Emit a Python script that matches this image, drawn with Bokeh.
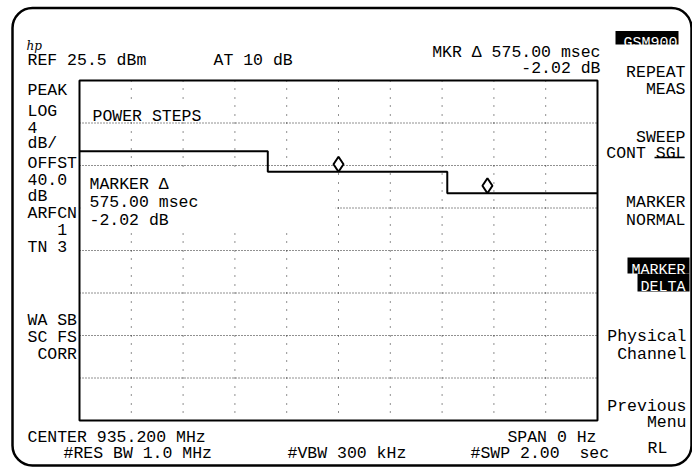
from bokeh.plotting import figure
from bokeh.models import Range1d, BoxAnnotation
from bokeh.core.properties import value
from bokeh.embed import file_html
from bokeh.resources import INLINE

REF_LEVEL_DBM = 25.5          # REF 25.5 dBm
DB_PER_DIV = 4.0              # LOG 4 dB/
N_YDIV = 8
SWEEP_S = 2.00                # #SWP 2.00 sec, SPAN 0 Hz (time domain)
STEP_T = [0.0, 0.727, 1.420, 2.000]          # s, start of each power step
STEP_DBM = [18.85, 16.91, 14.89, 14.89]      # dBm, level of each step
MARKER_T = [1.000, 1.575]                    # reference marker, delta marker (575 ms)
MARKER_DBM = [16.91, 14.89]                  # delta = -2.02 dB
GRID_T = [0.2, 0.4, 0.6, 0.8, 1.0, 1.2, 1.4, 1.6, 1.8]
GRID_DBM = [21.5, 17.5, 13.5, 9.5, 5.5, 1.5, -2.5]

# ---------------- layout (page pixels) ----------------
W, H = 692, 467
OX, OY = 0, 0
FX0, FX1, FY0, FY1 = 79, 597, 80, 420
FONT = "Liberation Mono"
FS = "16.5px"
NB = "\u00a0"

bottom_dbm = REF_LEVEL_DBM - N_YDIV * DB_PER_DIV
px_per_s = (FX1 - FX0) / SWEEP_S
px_per_db = (FY1 - FY0) / (REF_LEVEL_DBM - bottom_dbm)

p = figure(width=W, height=H, x_range=Range1d(OX, OX + W), y_range=Range1d(OY + H, OY),
           output_backend="svg", toolbar_location=None, min_border=0,
           x_axis_location=None, y_axis_location=None)
p.grid.visible = False
p.outline_line_color = None
p.background_fill_color = "white"
p.border_fill_color = "white"
p.extra_x_ranges = {"t": Range1d(-(FX0 - OX) / px_per_s, SWEEP_S + (OX + W - FX1) / px_per_s)}
p.extra_y_ranges = {"dbm": Range1d(bottom_dbm - (OY + H - FY1) / px_per_db,
                                   REF_LEVEL_DBM + (FY0 - OY) / px_per_db)}
D = dict(x_range_name="t", y_range_name="dbm")

# outer screen bezel
p.add_layout(BoxAnnotation(left=12, right=691, top=7.5, bottom=465, fill_alpha=0,
                           line_color="black", line_alpha=1.0, line_width=2.5, border_radius=20))

# graticule
p.segment(x0=GRID_T, y0=[REF_LEVEL_DBM] * len(GRID_T), x1=GRID_T, y1=[bottom_dbm] * len(GRID_T),
          line_color="#222222", line_width=1, line_dash="1 7 1 8", **D)
p.segment(x0=[0.0] * len(GRID_DBM), y0=GRID_DBM, x1=[SWEEP_S] * len(GRID_DBM), y1=GRID_DBM,
          line_color="#222222", line_width=1, line_dash="1 2", **D)

# blanked areas behind on-screen annotations
p.quad(left=[87, 80], right=[207, 335], top=[102, 167], bottom=[120, 229],
       fill_color="white", line_color=None)

# frame
p.quad(left=[0.0], right=[SWEEP_S], top=[REF_LEVEL_DBM], bottom=[bottom_dbm],
       fill_color=None, line_color="black", line_width=2, **D)

# trace
p.step(x=STEP_T, y=STEP_DBM, mode="after", line_color="black", line_width=2, **D)

# markers (diamond sits on the trace point)
lift = 7.5 / px_per_db
p.scatter(x=MARKER_T, y=[v + lift for v in MARKER_DBM], marker="diamond", size=15,
          fill_color="white", line_color="black", line_width=2, **D)

# inverse-video boxes
p.quad(left=[615, 627, 637], right=[678, 689, 689], top=[30.5, 257, 273], bottom=[44, 273, 291],
       fill_color="black", line_color=None)


def txt(x, y, s, align="left", color="black", font=FONT, size=FS, style="normal"):
    p.text(x=[x], y=[y], text=[s], text_align=align, text_baseline="alphabetic",
           text_font=value(font), text_font_size=size, text_color=color, text_font_style=style)


left_texts = [
    ("REF 25.5 dBm", 27, 60), ("AT 10 dB", 213, 60),
    ("PEAK", 27, 90), ("LOG", 27, 111), ("4", 27, 127), ("dB/", 27, 143),
    ("OFFST", 27, 163), ("40.0", 27, 179), ("dB", 27, 196), ("ARFCN", 27, 213),
    (NB * 3 + "1", 27, 230), ("TN 3", 27, 247),
    ("WA SB", 27, 320), ("SC FS", 27, 337), (NB + "CORR", 27, 354),
    ("POWER STEPS", 92, 116),
    ("MARKER Δ", 89, 184), ("575.00 msec", 89, 202), ("-2.02 dB", 89, 220),
    ("CENTER 935.200 MHz", 27, 437), ("#RES BW 1.0 MHz", 63, 453),
    ("#VBW 300 kHz", 287, 453), ("#SWP 2.00" + NB * 2 + "sec", 470, 453),
    ("RL", 647, 448),
]
for s, x, y in left_texts:
    txt(x, y, s)

right_texts = [
    ("MKR Δ 575.00 msec", 600, 52), ("-2.02 dB", 600, 68), ("SPAN 0 Hz", 596, 437),
    ("REPEAT", 685, 72), ("MEAS", 685, 89),
    ("SWEEP", 685, 137), ("CONT SGL", 685, 153),
    ("MARKER", 685, 202), ("NORMAL", 685, 220),
    ("Physical", 686, 336), ("Channel", 686, 354),
    ("Previous", 686, 406), ("Menu", 686, 422),
]
for s, x, y in right_texts:
    txt(x, y, s, align="right")

for s, x, y in [("GSM900", 677, 42.5), ("MARKER", 685, 270), ("DELTA", 685, 287)]:
    txt(x, y, s, align="right", color="white", size="15px")

# underline of active choice SGL
p.segment(x0=[654], y0=[157], x1=[684], y1=[157], line_color="black", line_width=1.5)

# hp logo
txt(26, 45, "hp", font="DejaVu Serif", size="12px", style="italic")

open("out.html", "w").write(file_html(p, INLINE))
